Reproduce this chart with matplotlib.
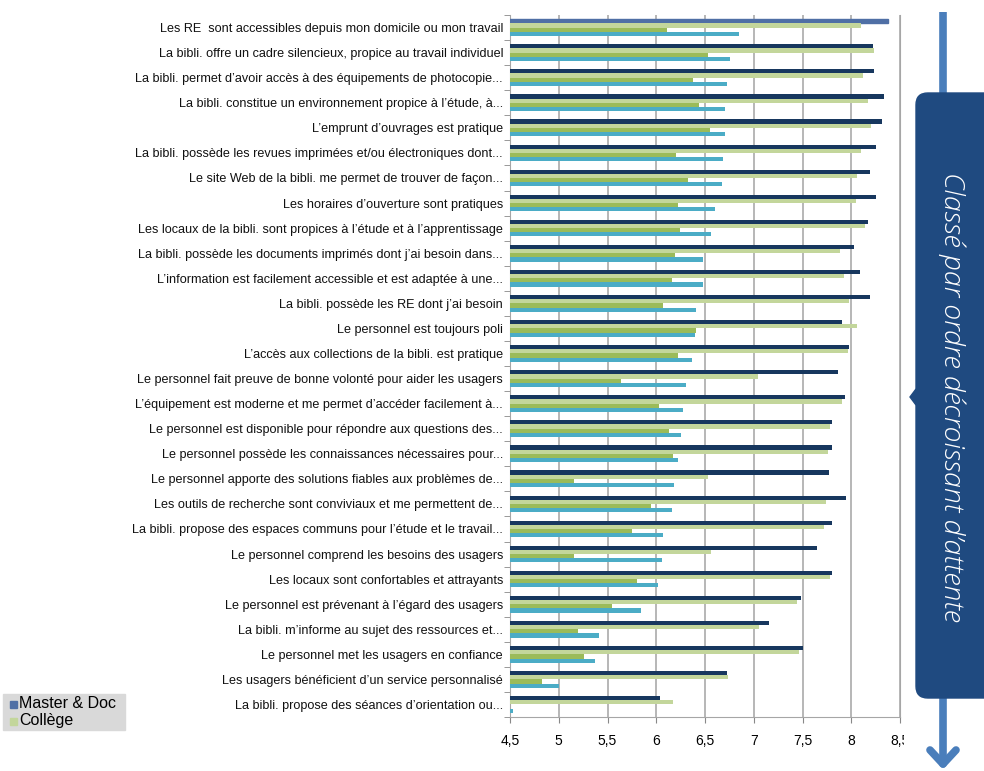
import matplotlib
matplotlib.use("Agg")
import matplotlib.pyplot as plt
import numpy as np
from matplotlib.patches import FancyBboxPatch, Rectangle, Polygon
from matplotlib.lines import Line2D
from matplotlib.transforms import Bbox

plt.rcParams["font.family"] = ["Liberation Sans", "DejaVu Sans"]

# Affirmations, classées par ordre décroissant d'attente
affirmations = [
    "Les RE  sont accessibles depuis mon domicile ou mon travail",
    "La bibli. offre un cadre silencieux, propice au travail individuel",
    "La bibli. permet d’avoir accès à des équipements de photocopie...",
    "La bibli. constitue un environnement propice à l’étude, à...",
    "L’emprunt d’ouvrages est pratique",
    "La bibli. possède les revues imprimées et/ou électroniques dont...",
    "Le site Web de la bibli. me permet de trouver de façon...",
    "Les horaires d’ouverture sont pratiques",
    "Les locaux de la bibli. sont propices à l’étude et à l’apprentissage",
    "La bibli. possède les documents imprimés dont j’ai besoin dans...",
    "L’information est facilement accessible et est adaptée à une...",
    "La bibli. possède les RE dont j’ai besoin",
    "Le personnel est toujours poli",
    "L’accès aux collections de la bibli. est pratique",
    "Le personnel fait preuve de bonne volonté pour aider les usagers",
    "L’équipement est moderne et me permet d’accéder facilement à...",
    "Le personnel est disponible pour répondre aux questions des...",
    "Le personnel possède les connaissances nécessaires pour...",
    "Le personnel apporte des solutions fiables aux problèmes de...",
    "Les outils de recherche sont conviviaux et me permettent de...",
    "La bibli. propose des espaces communs pour l’étude et le travail...",
    "Le personnel comprend les besoins des usagers",
    "Les locaux sont confortables et attrayants",
    "Le personnel est prévenant à l’égard des usagers",
    "La bibli. m’informe au sujet des ressources et...",
    "Le personnel met les usagers en confiance",
    "Les usagers bénéficient d’un service personnalisé",
    "La bibli. propose des séances d’orientation ou...",
]

master_doc = [8.38, 8.22, 8.23, 8.34, 8.32, 8.25, 8.19, 8.25, 8.17, 8.03,
              8.09, 8.19, 7.91, 7.98, 7.86, 7.94, 7.80, 7.80, 7.77, 7.95,
              7.80, 7.65, 7.80, 7.48, 7.16, 7.50, 6.73, 6.04]
college = [8.10, 8.23, 8.12, 8.17, 8.20, 8.10, 8.06, 8.05, 8.14, 7.88,
           7.93, 7.98, 8.06, 7.97, 7.04, 7.90, 7.78, 7.76, 6.53, 7.74,
           7.72, 6.56, 7.78, 7.44, 7.05, 7.46, 6.74, 6.17]
serie_3 = [6.11, 6.53, 6.38, 6.44, 6.55, 6.20, 6.33, 6.22, 6.24, 6.19,
           6.16, 6.07, 6.41, 6.22, 5.64, 6.03, 6.13, 6.17, 5.16, 5.95,
           5.75, 5.16, 5.80, 5.55, 5.20, 5.26, 4.83, 4.40]
serie_4 = [6.85, 6.76, 6.73, 6.71, 6.70, 6.68, 6.67, 6.60, 6.56, 6.48,
           6.48, 6.41, 6.40, 6.37, 6.31, 6.27, 6.25, 6.22, 6.18, 6.16,
           6.07, 6.06, 6.02, 5.84, 5.41, 5.37, 5.00, 4.53]

graduations = [4.5, 5, 5.5, 6, 6.5, 7, 7.5, 8, 8.5]

fig = plt.figure(figsize=(9.84, 7.71), dpi=100)
ax = fig.add_axes([510 / 984, 54 / 771, 390 / 984, 702 / 771])

y = np.arange(len(affirmations))
h = 0.167
couleurs = ["#17375E", "#C3D69B", "#9BBB59", "#4BACC6"]
series = [master_doc, college, serie_3, serie_4]
for i, (vals, c) in enumerate(zip(series, couleurs)):
    barres = ax.barh(y - 1.5 * h + i * h, vals, height=h, color=c, zorder=3)
    if i == 0:
        barres[0].set_color("#4F6FA5")

ax.set_xlim(4.5, 8.5)
ax.set_ylim(len(affirmations) - 0.5, -0.5)
ax.set_xticks(graduations)
ax.set_xticklabels([f"{g:g}".replace(".", ",") for g in graduations], fontsize=10)
ax.grid(axis="x", color="#A3A3A3", lw=1.1, zorder=0)

ax.set_yticks(y)
ax.set_yticklabels(affirmations, fontsize=9.1, color="#111111")
ax.set_yticks(np.arange(-0.5, len(affirmations), 1), minor=True)
ax.tick_params(axis="y", which="major", length=0, pad=5)
ax.tick_params(axis="y", which="minor", length=4, color="#888888")
ax.tick_params(axis="x", length=4, color="#888888", pad=8)

for s in ["left", "bottom", "right"]:
    ax.spines[s].set_color("#A6A6A6")
ax.spines["top"].set_visible(False)

# la dernière graduation est coupée par le cadre
dernier = ax.get_xticklabels()[-1]
dernier.set_clip_box(Bbox([[0, 0], [904, 771]]))
dernier.set_clip_on(True)

# légende
fig.patches.append(Rectangle((3 / 984, 41 / 771), 122 / 984, 36 / 771,
                             transform=fig.transFigure, color="#D9D9D9", zorder=0))
for k, (nom, c) in enumerate([("Master & Doc", "#4F6FA5"), ("Collège", "#C3D69B")]):
    yy = (67 - k * 17) / 771
    fig.patches.append(Rectangle((10 / 984, yy - 3.5 / 771), 7 / 984, 7 / 771,
                                 transform=fig.transFigure, color=c))
    fig.text(19 / 984, yy, nom, fontsize=11.5, va="center", ha="left")

# flèche et encadré à droite
bleu_fleche = "#4A7EBB"
fig.lines.append(Line2D([943 / 984, 943 / 984], [759 / 771, 8 / 771],
                        transform=fig.transFigure, color=bleu_fleche, lw=5.5,
                        solid_capstyle="butt", zorder=1))
for dx in (-13, 13):
    fig.lines.append(Line2D([(943 + dx) / 984, 943 / 984], [21 / 771, 7 / 771],
                            transform=fig.transFigure, color=bleu_fleche, lw=5.5,
                            solid_capstyle="round", zorder=1))
boite = FancyBboxPatch((916 / 984, 73 / 771), 80 / 984, 605 / 771,
                       boxstyle="round,pad=0,rounding_size=0.012",
                       transform=fig.transFigure, color="#1F4A80", zorder=2,
                       mutation_aspect=984 / 771)
fig.patches.append(boite)
fig.patches.append(Polygon([(916 / 984, 382 / 771), (910 / 984, 374 / 771),
                            (916 / 984, 366 / 771)], closed=True,
                           transform=fig.transFigure, color="#1F4A80", zorder=2))
fig.text(952 / 984, 374 / 771, "Classé par ordre décroissant d’attente",
         rotation=270, ha="center", va="center", color="white", fontsize=20.5,
         style="italic", family=["Open Sans", "DejaVu Sans"], fontweight="light",
         zorder=3)

fig.savefig("out.png", dpi=100)
